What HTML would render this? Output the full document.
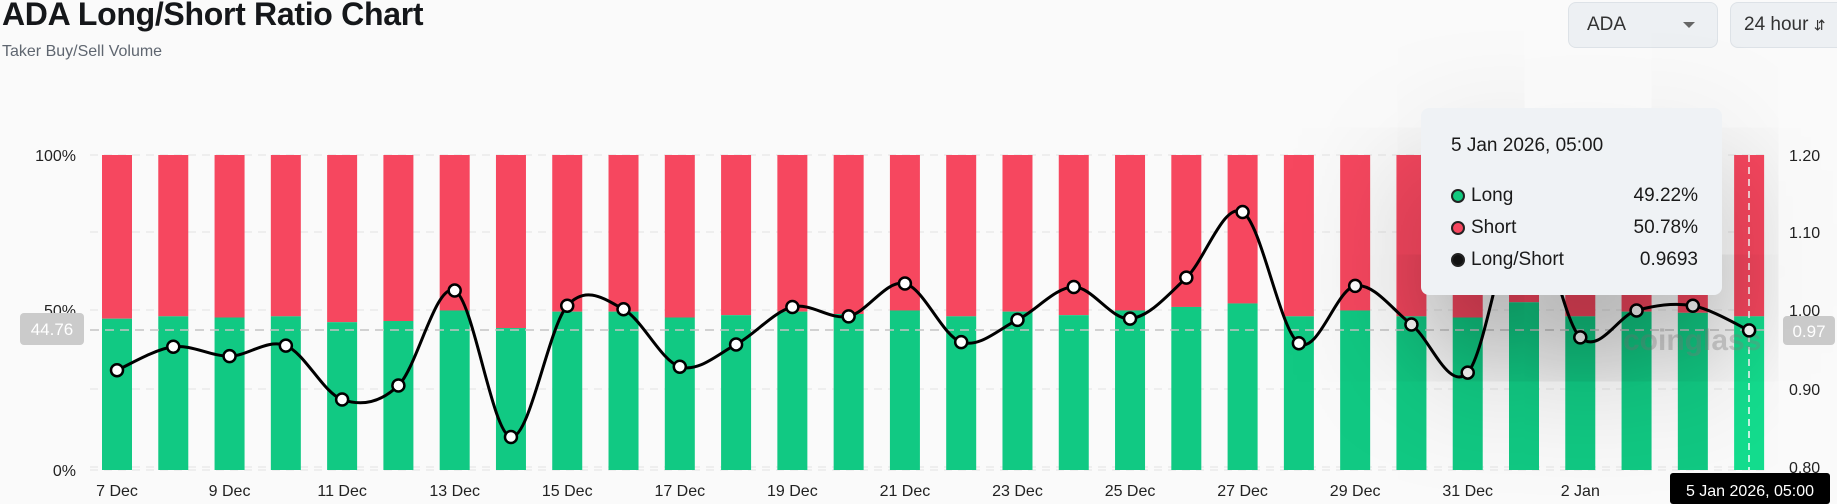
<!DOCTYPE html>
<html><head><meta charset="utf-8"><style>
html,body{margin:0;padding:0;background:#fafafa;width:1837px;height:504px;overflow:hidden;font-family:"Liberation Sans",sans-serif;}
.t{position:absolute;left:2px;top:-4px;font-size:32px;font-weight:bold;color:#15171a;letter-spacing:-0.3px}
.s{position:absolute;left:2px;top:43px;font-size:16px;color:#5f6670}
.box{position:absolute;top:2px;height:46px;background:#edf0f3;border:1px solid #dde2e7;border-radius:8px;box-sizing:border-box;font-size:19px;color:#333;line-height:44px}
.tip{position:absolute;left:1421px;top:108px;width:301px;height:187px;background:#eff2f5;border-radius:8px;box-shadow:0 60px 130px rgba(0,0,0,0.38);color:#1a1a1a;font-size:19px}
.row{position:absolute;left:30px;right:24px;height:24px}
.row .d{position:absolute;left:0;top:4px;width:10px;height:10px;border-radius:50%;border:2px solid #222}
.row .l{position:absolute;left:20px;top:0}
.row .v{position:absolute;right:0;top:0}
</style></head><body>
<div class="t">ADA Long/Short Ratio Chart</div>
<div class="s">Taker Buy/Sell Volume</div>
<div class="box" style="left:1568px;width:150px;padding-left:18px">ADA<span style="position:absolute;right:22px;top:19px;width:0;height:0;border-left:6px solid transparent;border-right:6px solid transparent;border-top:6px solid #666"></span></div>
<div class="box" style="left:1730px;width:120px;padding-left:13px">24 hour <span style="font-size:14px">&#8693;</span></div>
<svg id="c" width="1837" height="504" style="position:absolute;left:0;top:0"></svg>
<div class="tip">
<div style="position:absolute;left:30px;top:27px">5 Jan 2026, 05:00</div>
<div class="row" style="top:77px"><span class="d" style="background:#12c97f"></span><span class="l">Long</span><span class="v">49.22%</span></div>
<div class="row" style="top:109px"><span class="d" style="background:#f6475f"></span><span class="l">Short</span><span class="v">50.78%</span></div>
<div class="row" style="top:141px"><span class="d" style="background:#111"></span><span class="l">Long/Short</span><span class="v">0.9693</span></div>
</div>
<script>
(function(){
var k=1.1716, s='';
var T0=155,B0=470;
var grid=[155,232,310,389,467,470];
grid.forEach(function(y){s+='<line x1="90" x2="1770" y1="'+y+'" y2="'+y+'" stroke="#e3e3e3" stroke-dasharray="8,6"/>';});
var g=[272,270,271,270,275,274,265,280,266,266,271,269,266,268,265,270,266,269,265,262,259,270,265,270,271,258,270,266,267,270];
var p=[316,296,304,295,341,329,248,373,261,264,313,294,262,270,242,292,273,245,272,237,181,293,244,277,318,175,288,265,261,282];
var xs=[];
for(var i=0;i<30;i++){var cx=117+i*56.28;xs.push(cx);var gy=g[i]*k;var last=i==29;
s+='<rect x="'+(cx-15)+'" y="'+T0+'" width="30" height="'+(gy-T0)+'" fill="'+(last?'#f8475f':'#f6475f')+'"/>';
s+='<rect x="'+(cx-15)+'" y="'+gy+'" width="30" height="'+(B0-gy)+'" fill="'+(last?'#14dd8e':'#11c983')+'"/>';}
s+='<line x1="90" x2="1770" y1="330" y2="330" stroke="#c4c4c4" stroke-width="1.5" stroke-dasharray="9,6"/>';
s+='<line x1="1749" x2="1749" y1="155" y2="470" stroke="#fff" stroke-width="1.5" stroke-dasharray="7,5"/>';
s+='<text x="1623" y="350" font-size="30" fill="#8a8a8a" opacity="0.35" font-weight="bold">coinglass</text>';
var pts=p.map(function(v,i){return [xs[i],v*k];});
var d='M'+pts[0][0]+','+pts[0][1];
for(var i=0;i<29;i++){var p0=pts[Math.max(0,i-1)],p1=pts[i],p2=pts[i+1],p3=pts[Math.min(29,i+2)];
var t=1/6;d+=' C'+(p1[0]+(p2[0]-p0[0])*t)+','+(p1[1]+(p2[1]-p0[1])*t)+' '+(p2[0]-(p3[0]-p1[0])*t)+','+(p2[1]-(p3[1]-p1[1])*t)+' '+p2[0]+','+p2[1];}
s+='<path d="'+d+'" fill="none" stroke="#000" stroke-width="3"/>';
pts.forEach(function(q){s+='<circle cx="'+q[0]+'" cy="'+q[1]+'" r="6" fill="#fff" stroke="#000" stroke-width="2.5"/>';});
s+='<g font-size="16" fill="#222" text-anchor="end"><text x="76" y="161">100%</text><text x="76" y="316">50%</text><text x="76" y="476">0%</text></g>';
s+='<rect x="20" y="313" width="64" height="32" rx="4" fill="#cbcbcb"/><text x="52" y="335" font-size="17" fill="#fff" text-anchor="middle">44.76</text>';
s+='<g font-size="16" fill="#222"><text x="1789" y="161">1.20</text><text x="1789" y="238">1.10</text><text x="1789" y="316">1.00</text><text x="1789" y="395">0.90</text><text x="1789" y="473">0.80</text></g>';
s+='<rect x="1783" y="316" width="52" height="29" rx="4" fill="#cbcbcb"/><text x="1809" y="337" font-size="17" fill="#fff" text-anchor="middle">0.97</text>';
var lab=['7 Dec','9 Dec','11 Dec','13 Dec','15 Dec','17 Dec','19 Dec','21 Dec','23 Dec','25 Dec','27 Dec','29 Dec','31 Dec','2 Jan'];
s+='<g font-size="16" fill="#222" text-anchor="middle">';
lab.forEach(function(l,i){s+='<text x="'+xs[i*2]+'" y="496">'+l+'</text>';});
s+='</g><rect x="1670" y="473" width="160" height="31" rx="3" fill="#000"/><text x="1750" y="496" font-size="16" fill="#fff" text-anchor="middle">5 Jan 2026, 05:00</text>';
document.getElementById('c').innerHTML=s;
})();
</script>
</body></html>
